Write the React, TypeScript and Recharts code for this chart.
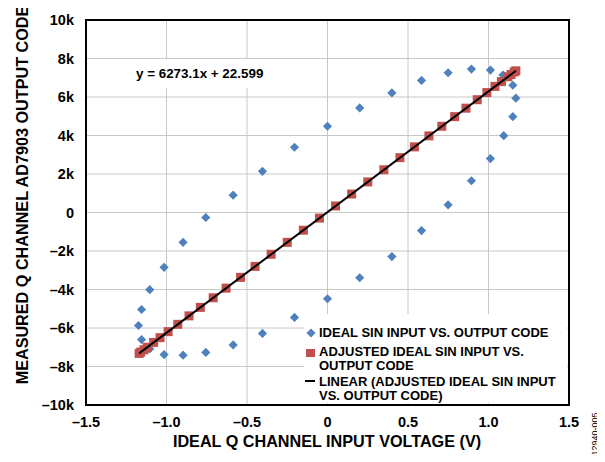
import React from 'react';
import { ScatterChart, Scatter, XAxis, YAxis, CartesianGrid, ReferenceArea } from 'recharts';

const xTicks = [-1.5, -1, -0.5, 0, 0.5, 1, 1.5];
const yTicks = [-10000, -8000, -6000, -4000, -2000, 0, 2000, 4000, 6000, 8000, 10000];

// ideal sin input vs output code (blue diamonds)
const idealX = [
  0, 0.2, 0.4, 0.584, 0.749, 0.894, 1.012, 1.09, 1.151, 1.17, 1.151, 1.095, 1.012, 0.894, 0.749, 0.584, 0.4, 0.2,
  0, -0.205, -0.404, -0.586, -0.756, -0.897, -1.015, -1.104, -1.155, -1.174, -1.155, -1.104, -1.015, -0.897, -0.756, -0.586, -0.404, -0.205,
];
const idealY = [
  4480, 5430, 6210, 6860, 7260, 7450, 7400, 7140, 6610, 5940, 4980, 3990, 2800, 1650, 400, -940, -2290, -3390,
  -4480, -5450, -6280, -6880, -7270, -7410, -7380, -7080, -6600, -5870, -5040, -4010, -2850, -1550, -260, 900, 2140, 3390,
];

// adjusted ideal sin input vs output code (red squares)
const adjustedX = [
  0.05, 0.15, 0.25, 0.35, 0.45, 0.54, 0.63, 0.71, 0.79, 0.86, 0.93, 0.99, 1.04, 1.08, 1.12, 1.14, 1.16, 1.17,
  -0.05, -0.15, -0.25, -0.35, -0.45, -0.54, -0.63, -0.71, -0.79, -0.86, -0.93, -0.99, -1.04, -1.08, -1.12, -1.14, -1.16, -1.17,
];
const adjustedY = [
  340, 960, 1590, 2220, 2850, 3410, 3980, 4480, 4980, 5420, 5860, 6230, 6550, 6800, 7050, 7170, 7300, 7360,
  -290, -920, -1550, -2170, -2800, -3370, -3930, -4430, -4930, -5370, -5810, -6190, -6500, -6750, -7000, -7130, -7250, -7320,
];

// linear trend line end points
const trendX = [-1.17, 1.17];
const trendY = [-7320, 7360];

const idealData = idealX.map((x, i) => ({ x, y: idealY[i] }));
const adjustedData = adjustedX.map((x, i) => ({ x, y: adjustedY[i] }));
const trendData = trendX.map((x, i) => ({ x, y: trendY[i] }));

const BLUE = '#4F81BD';
const RED = '#C0504D';
const FONT = 'Arial, "Liberation Sans", sans-serif';

const Diamond = (props: any) => {
  const { cx, cy } = props;
  const r = 4.6;
  return <polygon points={`${cx},${cy - r} ${cx + r},${cy} ${cx},${cy + r} ${cx - r},${cy}`} fill={BLUE} />;
};

const Square = (props: any) => {
  const { cx, cy } = props;
  return <rect x={cx - 4.5} y={cy - 4.5} width={9} height={9} fill={RED} />;
};

const fmtX = (v: number) => {
  if (v === 0) return '0';
  const s = Math.abs(v).toFixed(1);
  return v < 0 ? '\u2013' + s : s;
};

const fmtY = (v: number) => {
  if (v === 0) return '0';
  const s = Math.abs(v / 1000) + 'k';
  return v < 0 ? '\u2013' + s : s;
};

const tickStyle = { fill: '#000', fontSize: 14.5, fontWeight: 'bold' as const, fontFamily: FONT };

const legendText: React.CSSProperties = {
  position: 'absolute',
  left: 15,
  fontSize: 13,
  fontWeight: 'bold',
  lineHeight: '14px',
  height: 14,
  whiteSpace: 'nowrap',
};

export default function App() {
  return (
    <div style={{ position: 'relative', width: 589, height: 446, fontFamily: FONT, color: '#000' }}>
      <ScatterChart width={589} height={446} margin={{ top: 12, right: 28, bottom: 0, left: 0 }}>
        <CartesianGrid stroke="#c8c8c8" strokeWidth={1} />
        <XAxis
          type="number"
          dataKey="x"
          domain={[-1.5, 1.5]}
          ticks={xTicks}
          tickFormatter={fmtX}
          axisLine={false}
          tickLine={false}
          tickMargin={6}
          height={49}
          tick={tickStyle}
          interval={0}
        />
        <YAxis
          type="number"
          dataKey="y"
          domain={[-10000, 10000]}
          ticks={yTicks}
          tickFormatter={fmtY}
          axisLine={false}
          tickLine={false}
          tickMargin={6}
          width={78}
          tick={tickStyle}
          interval={0}
        />
        <ReferenceArea x1={-1.5} x2={1.5} y1={-10000} y2={10000} fill="none" stroke="#000" strokeWidth={2} />
        <Scatter data={idealData} shape={Diamond} isAnimationActive={false} />
        <Scatter data={adjustedData} shape={Square} isAnimationActive={false} />
        <Scatter
          data={trendData}
          line={{ stroke: '#000', strokeWidth: 2 }}
          shape={() => <g />}
          isAnimationActive={false}
        />
      </ScatterChart>

      {/* trendline equation */}
      <div
        style={{
          position: 'absolute', left: 122, top: 51, width: 150, height: 29, background: '#fff',
          fontSize: 13.4, fontWeight: 'bold', lineHeight: '29px', paddingLeft: 6, boxSizing: 'border-box', whiteSpace: 'nowrap',
        }}
      >
        y = 6273.1x + 22.599
      </div>

      {/* legend */}
      <div style={{ position: 'absolute', left: 296, top: 306, width: 263, height: 89, background: '#fff' }}>
        <svg width={14} height={89} style={{ position: 'absolute', left: 0, top: 0 }}>
          <polygon points="7,14.5 11.5,19 7,23.5 2.5,19" fill={BLUE} />
          <rect x={2} y={35} width={9} height={8} fill={RED} />
          <line x1={1} x2={11} y1={67} y2={67} stroke="#000" strokeWidth={2} />
        </svg>
        <div style={{ ...legendText, top: 12 }}>IDEAL SIN INPUT VS. OUTPUT CODE</div>
        <div style={{ ...legendText, top: 31 }}>ADJUSTED IDEAL SIN INPUT VS.</div>
        <div style={{ ...legendText, top: 45 }}>OUTPUT CODE</div>
        <div style={{ ...legendText, top: 61 }}>LINEAR (ADJUSTED IDEAL SIN INPUT</div>
        <div style={{ ...legendText, top: 75 }}>VS. OUTPUT CODE)</div>
      </div>

      {/* axis titles */}
      <div
        style={{
          position: 'absolute', left: 14 - 200, top: 187 - 10, width: 400, height: 20, lineHeight: '20px',
          textAlign: 'center', fontSize: 16.2, fontWeight: 'bold', transform: 'rotate(-90deg)', whiteSpace: 'nowrap',
        }}
      >
        MEASURED Q CHANNEL AD7903 OUTPUT CODE
      </div>
      <div
        style={{
          position: 'absolute', left: 319 - 200, top: 433 - 10, width: 400, height: 20, lineHeight: '20px',
          textAlign: 'center', fontSize: 16.2, fontWeight: 'bold', whiteSpace: 'nowrap',
        }}
      >
        IDEAL Q CHANNEL INPUT VOLTAGE (V)
      </div>
      <div
        style={{
          position: 'absolute', left: 587 - 30, top: 426 - 6, width: 60, height: 12, lineHeight: '12px',
          textAlign: 'center', fontSize: 9, transform: 'rotate(-90deg)', whiteSpace: 'nowrap',
        }}
      >
        12940-005
      </div>
    </div>
  );
}
